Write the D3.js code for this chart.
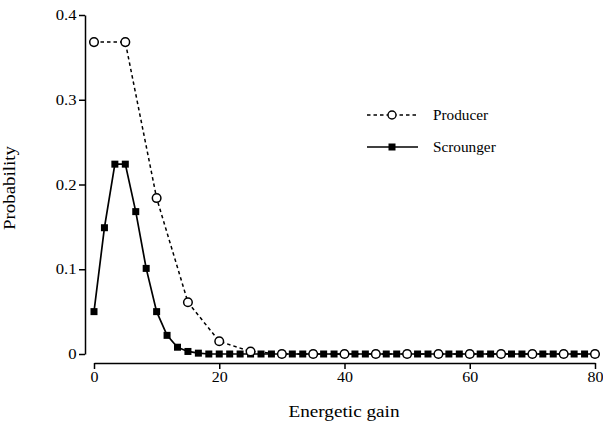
<!DOCTYPE html>
<html>
<head>
<meta charset="utf-8">
<script src="https://cdn.jsdelivr.net/npm/d3@7"></script>
<style>
  html, body { margin: 0; padding: 0; background: #fff; }
  svg { display: block; }
  text { font-family: "Liberation Serif", "DejaVu Serif", serif; fill: #000; }
</style>
</head>
<body>
<svg id="chart" width="603" height="423"></svg>
<script>
// Energetic gain values at which each strategy is evaluated
const producerGain = [0, 5, 10, 15, 20, 25, 30, 35, 40, 45, 50, 55, 60, 65, 70, 75, 80];
const producerProb = [0.368, 0.368, 0.184, 0.061, 0.015, 0.003, 0, 0, 0, 0, 0, 0, 0, 0, 0, 0, 0];

const scroungerGain = [
  0, 1.667, 3.333, 5, 6.667, 8.333, 10, 11.667, 13.333, 15, 16.667, 18.333,
  20, 21.667, 23.333, 25, 26.667, 28.333, 30, 31.667, 33.333, 35, 36.667, 38.333,
  40, 41.667, 43.333, 45, 46.667, 48.333, 50, 51.667, 53.333, 55, 56.667, 58.333,
  60, 61.667, 63.333, 65, 66.667, 68.333, 70, 71.667, 73.333, 75, 76.667, 78.333, 80
];
const scroungerProb = [
  0.050, 0.149, 0.224, 0.224, 0.168, 0.101, 0.050, 0.022, 0.008, 0.003, 0.001, 0,
  0, 0, 0, 0, 0, 0, 0, 0, 0, 0, 0, 0,
  0, 0, 0, 0, 0, 0, 0, 0, 0, 0, 0, 0,
  0, 0, 0, 0, 0, 0, 0, 0, 0, 0, 0, 0, 0
];

const xTicks = [0, 20, 40, 60, 80];
const yTicks = [0, 0.1, 0.2, 0.3, 0.4];
const yTickLabels = ["0", "0.1", "0.2", "0.3", "0.4"];
const seriesNames = ["Producer", "Scrounger"];

const svg = d3.select("#chart");

const x = d3.scaleLinear().domain([0, 80]).range([94, 595]);
const y = d3.scaleLinear().domain([0, 0.4]).range([354, 15]);

const axisY = 85;   // x-position of the vertical axis
const axisX = 363;  // y-position of the detached horizontal axis

// Widen the typeface a little (a broad Times-like face)
function widen(sel, k) {
  sel.each(function () {
    const w = this.getComputedTextLength();
    d3.select(this)
      .attr("textLength", w * k)
      .attr("lengthAdjust", "spacingAndGlyphs");
  });
}

// Y axis
const gy = svg.append("g")
  .attr("transform", `translate(${axisY},0)`)
  .call(d3.axisLeft(y).tickValues(yTicks).tickSize(6).tickSizeOuter(0)
    .tickFormat((d, i) => yTickLabels[i]));
gy.select(".domain").attr("stroke", "#000").attr("stroke-width", 1.5);
gy.selectAll(".tick line").attr("stroke", "#000").attr("stroke-width", 1.5);
gy.selectAll(".tick text")
  .attr("font-family", "Liberation Serif")
  .attr("font-size", 14.5)
  .attr("x", -8.5);
widen(gy.selectAll(".tick text"), 1.15);

// X axis
const gx = svg.append("g")
  .attr("transform", `translate(0,${axisX})`)
  .call(d3.axisBottom(x).tickValues(xTicks).tickSize(6).tickSizeOuter(0));
gx.select(".domain").attr("stroke", "#000").attr("stroke-width", 1.5);
gx.selectAll(".tick line").attr("stroke", "#000").attr("stroke-width", 1.5);
gx.selectAll(".tick text")
  .attr("font-family", "Liberation Serif")
  .attr("font-size", 14.5)
  .attr("y", 9);
widen(gx.selectAll(".tick text"), 1.1);

// Axis titles
const xTitle = svg.append("text")
  .attr("x", 344).attr("y", 416.5)
  .attr("text-anchor", "middle")
  .attr("font-size", 16)
  .text("Energetic gain");
widen(xTitle, 1.2);

const yTitle = svg.append("text")
  .attr("transform", "translate(15,188) rotate(-90)")
  .attr("text-anchor", "middle")
  .attr("font-size", 16)
  .text("Probability");
widen(yTitle, 1.18);

const line = d3.line().x(d => x(d[0])).y(d => y(d[1]));

const scrPts = scroungerGain.map((g, i) => [g, scroungerProb[i]]);
const proPts = producerGain.map((g, i) => [g, producerProb[i]]);

// Scrounger: solid line with filled squares
svg.append("path")
  .datum(scrPts)
  .attr("d", line)
  .attr("fill", "none")
  .attr("stroke", "#000")
  .attr("stroke-width", 1.7);

const sq = 7;
svg.append("g").selectAll("rect")
  .data(scrPts)
  .join("rect")
  .attr("x", d => x(d[0]) - sq / 2)
  .attr("y", d => y(d[1]) - sq / 2)
  .attr("width", sq).attr("height", sq)
  .attr("fill", "#000");

// Producer: dashed line with open circles
svg.append("path")
  .datum(proPts)
  .attr("d", line)
  .attr("fill", "none")
  .attr("stroke", "#000")
  .attr("stroke-width", 1.5)
  .attr("stroke-dasharray", "3.5,3");

svg.append("g").selectAll("circle")
  .data(proPts)
  .join("circle")
  .attr("cx", d => x(d[0]))
  .attr("cy", d => y(d[1]))
  .attr("r", 4.3)
  .attr("fill", "#fff")
  .attr("stroke", "#000")
  .attr("stroke-width", 1.5);

// Legend
const legend = svg.append("g");
const lx0 = 367, lx1 = 418, lmid = 392;
const rows = [115, 147];

legend.append("line")
  .attr("x1", lx0).attr("x2", lx1).attr("y1", rows[0]).attr("y2", rows[0])
  .attr("stroke", "#000").attr("stroke-width", 1.3).attr("stroke-dasharray", "3.5,3");
legend.append("circle")
  .attr("cx", lmid).attr("cy", rows[0]).attr("r", 4)
  .attr("fill", "#fff").attr("stroke", "#000").attr("stroke-width", 1.4);

legend.append("line")
  .attr("x1", lx0).attr("x2", lx1).attr("y1", rows[1]).attr("y2", rows[1])
  .attr("stroke", "#000").attr("stroke-width", 1.6);
legend.append("rect")
  .attr("x", lmid - 3.5).attr("y", rows[1] - 3.5)
  .attr("width", 7).attr("height", 7).attr("fill", "#000");

const legText = legend.selectAll("text")
  .data(seriesNames)
  .join("text")
  .attr("x", 433)
  .attr("y", (d, i) => rows[i] + 4.5)
  .attr("font-size", 14)
  .text(d => d);
widen(legText, 1.09);
</script>
</body>
</html>
